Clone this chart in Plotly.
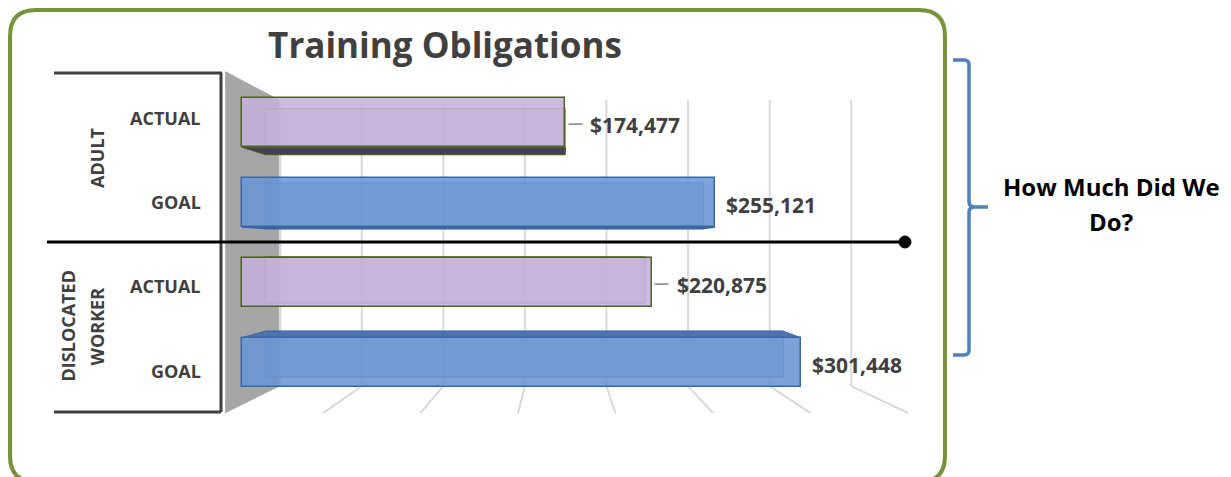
import plotly.graph_objects as go

# ---------------- data ----------------
groups = ["ADULT", "DISLOCATED", "WORKER"]          # group label words
group_of_word = [0, 1, 1]                           # ADULT -> group 0, DISLOCATED WORKER -> group 1
measures = ["ACTUAL", "GOAL", "ACTUAL", "GOAL"]
bar_group = [0, 0, 1, 1]
values = [174477, 255121, 220875, 301448]
grid_ticks = [0, 50000, 100000, 150000, 200000, 250000, 300000, 350000]
title_text = "Training Obligations"
side_note_lines = ["How Much Did We", "Do?"]

# ---------------- layout / style constants ----------------
PAGE_W, PAGE_H = 1231, 477
OFF = 8                      # default page margin of the html body
W, H = PAGE_W - OFF, PAGE_H - OFF
X0_PX = 242.0                # page pixel where value 0 sits on the bar front plane
PX_PER_USD = 1.854e-3
Y0_PX = 122.5                # page pixel centre of first row
PX_PER_ROW = 80.0
BAR_W = 0.62

# simple perspective model (in data units)
VP_X, VP_Y = 171500.0, 1.569
S_BAR_BACK, S_WALL, S_FRONT = 0.927, 0.88, 1.053
BOX_TOP, BOX_FLOOR = -0.531, 3.53

FONT = "Open Sans"
DARK = "#404040"

style = {
    "ACTUAL": dict(fill="rgba(196,178,218,0.88)", back="rgba(186,168,208,0.55)",
                   top="#a896bd", bottom="#463f51", line="#4f6228",
                   label_shift=23, leader=True),
    "GOAL": dict(fill="rgba(106,150,210,0.88)", back="rgba(92,132,190,0.55)",
                 top="#4f73a8", bottom="#2f4f80", line="#3a67a8",
                 label_shift=9, leader=False),
}


def proj(x, y, s):
    return VP_X + s * (x - VP_X), VP_Y + s * (y - VP_Y)


def px(x):
    return (x - OFF) / W


def py(y):
    return 1 - (y - OFF) / H


def poly(points):
    return "M " + " L ".join(f"{a},{b}" for a, b in points) + " Z"


shapes = []

# ---- green rounded frame (paper) ----
fx0, fy0, fx1, fy1, r = 10, 10, 945, 482, 26
frame_path = (
    f"M {px(fx0 + r)},{py(fy0)} L {px(fx1 - r)},{py(fy0)} "
    f"Q {px(fx1)},{py(fy0)} {px(fx1)},{py(fy0 + r)} "
    f"L {px(fx1)},{py(fy1 - r)} Q {px(fx1)},{py(fy1)} {px(fx1 - r)},{py(fy1)} "
    f"L {px(fx0 + r)},{py(fy1)} Q {px(fx0)},{py(fy1)} {px(fx0)},{py(fy1 - r)} "
    f"L {px(fx0)},{py(fy0 + r)} Q {px(fx0)},{py(fy0)} {px(fx0 + r)},{py(fy0)} Z"
)
shapes.append(dict(type="path", xref="paper", yref="paper", path=frame_path,
                   line=dict(color="#77933c", width=4), layer="above"))

# ---- side wall ----
wall = [proj(0, BOX_TOP, S_FRONT), proj(0, BOX_TOP, S_WALL),
        proj(0, BOX_FLOOR, S_WALL), proj(0, BOX_FLOOR, S_FRONT)]
shapes.append(dict(type="path", xref="x", yref="y", path=poly(wall),
                   fillcolor="#a6a6a6", line=dict(width=0), layer="below"))

# ---- gridlines (back wall + floor) ----
for t in grid_ticks:
    a = proj(t, BOX_TOP, S_WALL)
    b = proj(t, BOX_FLOOR, S_WALL)
    shapes.append(dict(type="line", xref="x", yref="y", x0=a[0], y0=a[1], x1=b[0], y1=b[1],
                       line=dict(color="#d9d9d9", width=2.5 if t == 0 else 2), layer="below"))
    if t > 0:
        c = proj(t, BOX_FLOOR, S_FRONT)
        shapes.append(dict(type="line", xref="x", yref="y", x0=b[0], y0=b[1], x1=c[0], y1=c[1],
                           line=dict(color="#d9d9d9", width=2), layer="below"))

# ---- 3D bar faces ----
for i, (m, v) in enumerate(zip(measures, values)):
    st = style[m]
    ytop, ybot = i - BAR_W / 2, i + BAR_W / 2
    nTL, nTR, nBR, nBL = (0, ytop), (v, ytop), (v, ybot), (0, ybot)
    fTL, fTR, fBR, fBL = [proj(p[0], p[1], S_BAR_BACK) for p in (nTL, nTR, nBR, nBL)]
    shapes.append(dict(type="path", xref="x", yref="y", path=poly([fTL, fTR, fBR, fBL]),
                       fillcolor=st["back"], line=dict(color=st["line"], width=1), layer="below"))
    if fTL[1] < nTL[1]:
        shapes.append(dict(type="path", xref="x", yref="y", path=poly([nTL, nTR, fTR, fTL]),
                           fillcolor=st["top"], line=dict(color=st["line"], width=1), layer="below"))
    if fBL[1] > nBL[1]:
        shapes.append(dict(type="path", xref="x", yref="y", path=poly([nBL, nBR, fBR, fBL]),
                           fillcolor=st["bottom"], line=dict(color=st["line"], width=1), layer="below"))
    if fTR[0] > nTR[0]:
        shapes.append(dict(type="path", xref="x", yref="y", path=poly([nTR, fTR, fBR, nBR]),
                           fillcolor=st["top"], line=dict(color=st["line"], width=1), layer="below"))
    if st["leader"]:
        shapes.append(dict(type="line", xref="x", yref="y", xsizemode="pixel", xanchor=v,
                           x0=3, x1=17, y0=i + 0.02, y1=i + 0.02,
                           line=dict(color="#7f7f7f", width=1.5), layer="above"))

# ---- category table lines ----
for (x0, y0, x1, y1) in [(54, 73, 222, 73), (221, 73, 221, 412), (54, 412, 221, 412)]:
    shapes.append(dict(type="line", xref="paper", yref="paper", x0=px(x0), y0=py(y0),
                       x1=px(x1), y1=py(y1), line=dict(color=DARK, width=3), layer="above"))

# ---- divider line with dot ----
shapes.append(dict(type="line", xref="paper", yref="paper", x0=px(47), y0=py(242),
                   x1=px(905), y1=py(242), line=dict(color="black", width=3), layer="above"))
shapes.append(dict(type="circle", xref="paper", yref="paper", x0=px(899), y0=py(236),
                   x1=px(911), y1=py(248), fillcolor="black", line=dict(color="black", width=1),
                   layer="above"))

# ---- right bracket ----
bracket = (
    f"M {px(953)},{py(60)} L {px(964)},{py(60)} Q {px(969)},{py(60)} {px(969)},{py(65)} "
    f"L {px(969)},{py(202)} Q {px(969)},{py(207)} {px(975)},{py(207)} L {px(988)},{py(207)} "
    f"M {px(975)},{py(207)} Q {px(969)},{py(207)} {px(969)},{py(212)} "
    f"L {px(969)},{py(350)} Q {px(969)},{py(355)} {px(964)},{py(355)} L {px(953)},{py(355)}"
)
shapes.append(dict(type="path", xref="paper", yref="paper", path=bracket,
                   line=dict(color="#4f81bd", width=3.5), layer="above"))

# ---------------- traces ----------------
fig = go.Figure()
fig.add_trace(go.Bar(
    orientation="h",
    x=values,
    y=list(range(len(values))),
    width=BAR_W,
    marker=dict(color=[style[m]["fill"] for m in measures],
                line=dict(color=[style[m]["line"] for m in measures], width=1.5)),
    hoverinfo="skip",
    showlegend=False,
))

# ---------------- annotations ----------------
ann = []
# value labels
for i, (m, v) in enumerate(zip(measures, values)):
    ann.append(dict(x=v, y=i, xref="x", yref="y", text=f"<b>${v:,}</b>", showarrow=False,
                    xanchor="left", yanchor="middle", xshift=style[m]["label_shift"], yshift=-2,
                    font=dict(family=FONT, size=21, color=DARK)))
# measure labels (row categories)
for i, m in enumerate(measures):
    yl = proj(0, i, S_FRONT)[1]
    ann.append(dict(x=px(203), y=yl, xref="paper", yref="y", text=f"<b>{m}</b>", showarrow=False,
                    xanchor="right", yanchor="middle", yshift=-2,
                    font=dict(family=FONT, size=18, color=DARK)))
# group labels (rotated)
group_centres = []
for g in sorted(set(bar_group)):
    rows = [i for i, b in enumerate(bar_group) if b == g]
    group_centres.append(proj(0, sum(rows) / len(rows), S_FRONT)[1])
word_x = [97, 68, 97]
for w, g, xw in zip(groups, group_of_word, word_x):
    ann.append(dict(x=px(xw), y=group_centres[g], xref="paper", yref="y", text=f"<b>{w}</b>",
                    showarrow=False, textangle=-90, xanchor="center", yanchor="middle",
                    font=dict(family=FONT, size=18, color=DARK)))
# side note
for line_text, yy in zip(side_note_lines, [186, 222]):
    ann.append(dict(x=px(1111), y=py(yy), xref="paper", yref="paper", text=f"<b>{line_text}</b>",
                    showarrow=False, xanchor="center", yanchor="middle",
                    font=dict(family=FONT, size=24, color="black")))

fig.update_layout(
    width=W, height=H, autosize=False,
    margin=dict(l=0, r=0, t=0, b=0, pad=0),
    paper_bgcolor="white", plot_bgcolor="white",
    title=dict(text=f"<b>{title_text}</b>", x=px(445), xanchor="center", xref="paper",
               y=py(46), yanchor="middle", yref="paper",
               font=dict(family=FONT, size=35, color=DARK)),
    xaxis=dict(range=[(OFF - X0_PX) / PX_PER_USD, (PAGE_W - X0_PX) / PX_PER_USD], domain=[0, 1],
               visible=False, showgrid=False, zeroline=False, fixedrange=True),
    yaxis=dict(range=[(PAGE_H - Y0_PX) / PX_PER_ROW, (OFF - Y0_PX) / PX_PER_ROW], domain=[0, 1],
               visible=False, showgrid=False, zeroline=False, fixedrange=True),
    shapes=shapes,
    annotations=ann,
    bargap=0,
    showlegend=False,
)

fig.write_html("out.html")
